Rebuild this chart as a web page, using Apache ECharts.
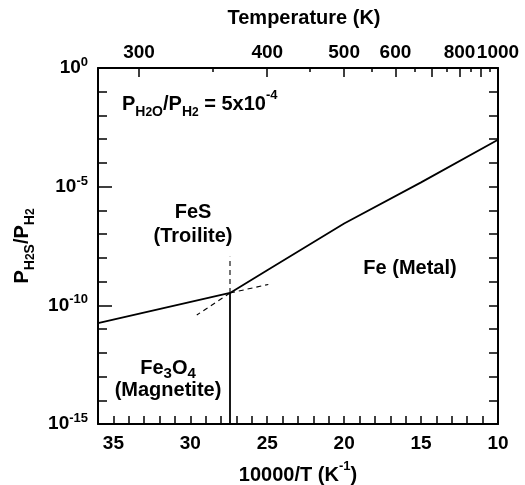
<!DOCTYPE html>
<html>
<head>
<meta charset="utf-8">
<script src="https://cdn.jsdelivr.net/npm/echarts@6/dist/echarts.min.js"></script>
<style>
html, body { margin: 0; background: #fff; }
#main { width: 525px; height: 485px; }
</style>
</head>
<body>
<div id="main"></div>
<script>
// x = 10000/T (K^-1), y = log10(P_H2S/P_H2)
var feSMagX = [36, 27.42];
var feSMagY = [-10.75, -9.48];
var feFeSX = [27.42, 25, 20, 15, 10];
var feFeSY = [-9.48, -8.52, -6.55, -4.82, -3.02];
var feMagX = [27.42, 27.42];
var feMagY = [-9.48, -15];
// metastable extensions (dashed)
var dashUpX = [27.42, 27.42];
var dashUpY = [-9.48, -7.95];
var dashRightX = [27.42, 24.93];
var dashRightY = [-9.48, -9.12];
var dashLeftX = [27.42, 29.58];
var dashLeftY = [-9.48, -10.41];
// top temperature axis (K)
var tempLabels = [300, 400, 500, 600, 800, 1000];
var tempMajor = [300, 400, 500, 600, 700, 800, 900, 1000];
var tempMinor = [350, 450, 550, 650, 750, 850, 950];

var FONT = "'Liberation Sans', Arial, Helvetica, sans-serif";

function pts(xs, ys) {
  var out = [];
  for (var i = 0; i < xs.length; i++) out.push([xs[i], ys[i]]);
  return out;
}
function inv(list) {
  return list.map(function (t) { return 10000 / t; });
}
function st(size, lh, va) {
  var o = { fontFamily: FONT, fontWeight: "bold", color: "#000", fontSize: size, lineHeight: lh };
  if (va) o.verticalAlign = va;
  return o;
}
var richMain = {
  m: st(20, 30),
  s: st(14, 15, "bottom"),
  ss: st(12, 9, "bottom"),
  sup: st(13, 14, "top")
};

function solid(data) {
  return {
    type: "line", xAxisIndex: 1, data: data, showSymbol: false, silent: true,
    lineStyle: { color: "#000", width: 1.8 }, z: 5
  };
}
function dashed(data) {
  return {
    type: "line", xAxisIndex: 1, data: data, showSymbol: false, silent: true,
    lineStyle: { color: "#000", width: 1.1, type: [5, 4] }, z: 4
  };
}
function label(x, y, text) {
  return {
    type: "text", x: x, y: y,
    style: { text: text, font: "bold 20px " + FONT, fill: "#000", align: "center", verticalAlign: "middle" }
  };
}

var myChart = echarts.init(document.getElementById("main"));
myChart.setOption({
  animation: false,
  grid: { left: 98, right: 27, top: 68, bottom: 61, outerBoundsMode: "none" },
  xAxis: [
    {
      type: "value", min: 10, max: 36, inverse: true, position: "top",
      splitLine: { show: false },
      axisLine: { lineStyle: { color: "#000", width: 2 } },
      axisTick: { inside: true, length: 9, customValues: inv(tempMajor), lineStyle: { color: "#000", width: 1.5 } },
      axisLabel: {
        margin: 6, fontSize: 19, fontFamily: FONT, fontWeight: "bold", color: "#000",
        customValues: inv(tempLabels), hideOverlap: false,
        formatter: function (v) { return Math.round(10000 / v); }
      },
      name: "Temperature (K)",
      nameLocation: "middle", nameGap: 40,
      nameTextStyle: { fontSize: 20, fontFamily: FONT, fontWeight: "bold", color: "#000", padding: [0, 0, 0, 12] }
    },
    {
      type: "value", min: 10, max: 36, interval: 5, inverse: true, position: "bottom",
      splitLine: { show: false },
      axisLine: { onZero: false, lineStyle: { color: "#000", width: 2 } },
      axisTick: { inside: true, length: 8, lineStyle: { color: "#000", width: 1.5 } },
      minorTick: { show: true, splitNumber: 5, length: 8, lineStyle: { color: "#000", width: 1.5 } },
      axisLabel: {
        margin: 10, fontSize: 19, fontFamily: FONT, fontWeight: "bold", color: "#000",
        showMaxLabel: false
      },
      name: "{m|10000/T (K}{sup|-1}{m|)}",
      nameLocation: "middle", nameGap: 36,
      nameTextStyle: { rich: richMain }
    },
    {
      type: "value", min: 10, max: 36, inverse: true, position: "top",
      splitLine: { show: false },
      axisLine: { show: false },
      axisTick: { inside: true, length: 4, customValues: inv(tempMinor), lineStyle: { color: "#000", width: 1.5 } },
      axisLabel: { show: true, customValues: inv(tempMinor), formatter: function () { return ""; } }
    }
  ],
  yAxis: [
    {
      type: "value", min: -15, max: 0, interval: 5, position: "left",
      splitLine: { show: false },
      axisLine: { onZero: false, lineStyle: { color: "#000", width: 2 } },
      axisTick: { inside: true, length: 14, lineStyle: { color: "#000", width: 1.5 } },
      minorTick: { show: true, splitNumber: 5, length: 9, lineStyle: { color: "#000", width: 1.5 } },
      axisLabel: {
        margin: 10,
        formatter: function (v) { return "{m|10}{sup|" + v + "}"; },
        rich: { m: st(19, 24), sup: st(13, 12, "top") }
      },
      name: "{m|P}{s|H}{ss|2}{s|S}{m|/P}{s|H}{ss|2}",
      nameLocation: "middle", nameRotate: 90, nameGap: 56,
      nameTextStyle: { rich: richMain }
    },
    {
      type: "value", min: -15, max: 0, interval: 5, position: "right",
      splitLine: { show: false },
      axisLine: { onZero: false, lineStyle: { color: "#000", width: 2 } },
      axisTick: { inside: true, length: 9, lineStyle: { color: "#000", width: 1.5 } },
      minorTick: { show: true, splitNumber: 5, length: 9, lineStyle: { color: "#000", width: 1.5 } },
      axisLabel: { show: false }
    }
  ],
  graphic: [
    {
      type: "text", x: 122, y: 104,
      style: {
        text: "{m|P}{s|H}{ss|2}{s|O}{m|/P}{s|H}{ss|2}{m| = 5x10}{sup|-4}",
        rich: richMain, verticalAlign: "middle", align: "left"
      }
    },
    label(193, 212, "FeS"),
    label(193, 236, "(Troilite)"),
    label(410, 268, "Fe (Metal)"),
    {
      type: "text", x: 168, y: 368,
      style: {
        text: "{m|Fe}{s|3}{m|O}{s|4}",
        rich: { m: st(20, 26), s: st(15, 15, "bottom") },
        align: "center", verticalAlign: "middle"
      }
    },
    label(168, 390, "(Magnetite)")
  ],
  series: [
    solid(pts(feSMagX, feSMagY)),
    solid(pts(feFeSX, feFeSY)),
    solid(pts(feMagX, feMagY)),
    dashed(pts(dashUpX, dashUpY)),
    dashed(pts(dashRightX, dashRightY)),
    dashed(pts(dashLeftX, dashLeftY))
  ]
});
</script>
</body>
</html>
